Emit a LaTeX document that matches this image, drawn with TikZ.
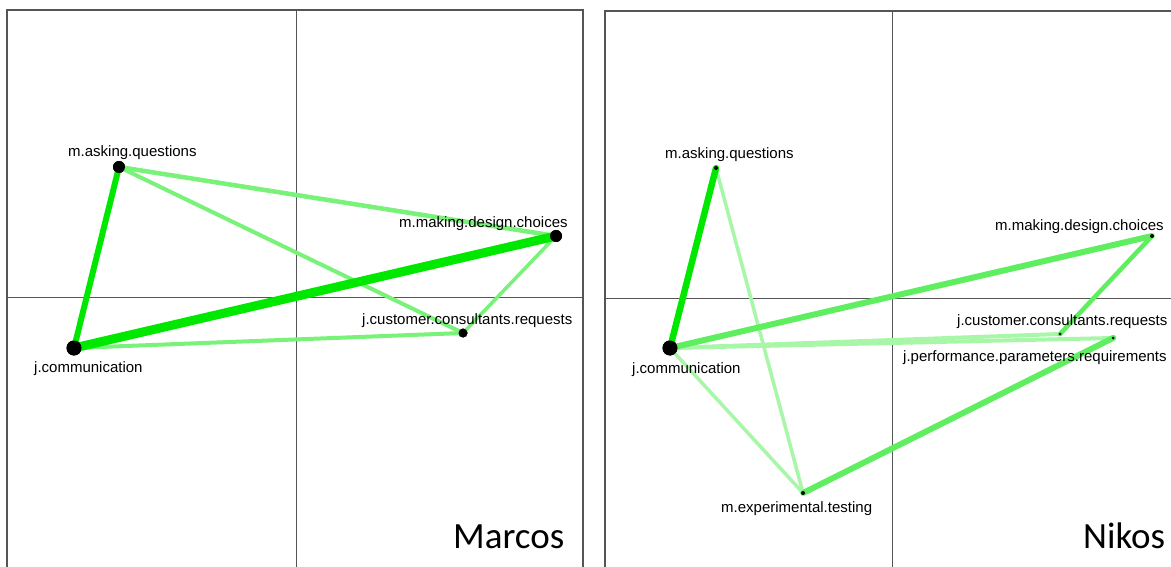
\documentclass[tikz,border=0pt]{standalone}
\usepackage{fontspec}
\setmainfont{Liberation Sans}
\newfontfamily\namefont{Carlito}
\definecolor{strongedge}{RGB}{0,232,0}
\definecolor{midedge}{RGB}{95,238,95}
\definecolor{lightedge}{RGB}{120,242,120}
\definecolor{paleedge}{RGB}{168,247,168}
\definecolor{framegray}{RGB}{85,85,85}
\begin{document}
\begin{tikzpicture}[x=1pt,y=-1pt,
  frame/.style={draw=framegray,line width=1.1pt},
  axis/.style={draw=framegray,line width=0.9pt},
  dot/.style={circle,fill=black,inner sep=0pt,minimum size=#1},
  lbl/.style={anchor=base west,inner sep=0pt,font=\fontsize{15}{18}\selectfont},
  who/.style={anchor=base west,inner sep=0pt,font=\namefont\fontsize{37}{44}\selectfont},
  edge/.style={line cap=round,shorten <=-2pt,shorten >=-2pt}]
\useasboundingbox (0,0) rectangle (1171,567);
\clip (0,0) rectangle (1171,567);
\fill[white] (0,0) rectangle (1171,567);

% ---------- left panel: Marcos ----------
\draw[frame] (7,567) -- (7,10) -- (583,10) -- (583,567);
\draw[axis] (296,10) -- (296,567);
\draw[axis] (7,297) -- (583,297);

\node[dot=12pt] (la) at (119,167) {};
\node[dot=15pt] (lc) at (74,348) {};
\node[dot=12pt] (lm) at (556,236) {};
\node[dot=9pt]  (lr) at (463,333) {};

\draw[edge,lightedge,line width=4pt] (lc) -- (lr);
\draw[edge,lightedge,line width=4.5pt] (la) -- (lm);
\draw[edge,lightedge,line width=4pt] (la) -- (lr);
\draw[edge,lightedge,line width=3.5pt] (lm) -- (lr);
\draw[edge,strongedge,line width=6pt] (lc) -- (la);
\draw[edge,strongedge,line width=9pt] (lc) -- (lm);

% dots again on top of the edges
\node[dot=12pt] at (la) {};
\node[dot=15pt] at (lc) {};
\node[dot=12pt] at (lm) {};
\node[dot=9pt]  at (lr) {};

\node[lbl] (laT) at (68,157) {m.asking.questions};
\node[lbl] (lcT) at (34,372) {j.communication};
\node[lbl] (lmT) at (399,228) {m.making.design.choices};
\node[lbl] (lrT) at (362,324) {j.customer.consultants.requests};
\node[who] (lname) at (453,548) {Marcos};

% ---------- right panel: Nikos ----------
\draw[frame] (605,567) -- (605,11) -- (1171,11);
\draw[axis] (892,11) -- (892,567);
\draw[axis] (605,298) -- (1171,298);

\node[dot=4pt]  (ra) at (716,168) {};
\node[dot=15pt] (rc) at (670,348) {};
\node[dot=4pt]  (rm) at (1152,236) {};
\node[dot=3pt]  (rr) at (1060,334) {};
\node[dot=3pt]  (rp) at (1113,338) {};
\node[dot=4pt]  (rx) at (803,493) {};

\draw[edge,paleedge,line width=3.5pt] (rc) -- (rx);
\draw[edge,paleedge,line width=3.5pt] (ra) -- (rx);
\draw[edge,paleedge,line width=4pt] (rc) -- (rr);
\draw[edge,paleedge,line width=4pt] (rc) -- (rp);
\draw[edge,midedge,line width=4.5pt] (rm) -- (rr);
\draw[edge,midedge,line width=6pt] (rx) -- (rp);
\draw[edge,midedge,line width=6pt] (rc) -- (rm);
\draw[edge,strongedge,line width=6.5pt] (rc) -- (ra);

\node[dot=4pt]  at (ra) {};
\node[dot=15pt] at (rc) {};
\node[dot=4pt]  at (rm) {};
\node[dot=3pt]  at (rr) {};
\node[dot=3pt]  at (rp) {};
\node[dot=4pt]  at (rx) {};

\node[lbl] (raT) at (665,159) {m.asking.questions};
\node[lbl] (rcT) at (632,373) {j.communication};
\node[lbl] (rmT) at (995,230) {m.making.design.choices};
\node[lbl] (rrT) at (957,325) {j.customer.consultants.requests};
\node[lbl] (rpT) at (903,361) {j.performance.parameters.requirements};
\node[lbl] (rxT) at (721,512) {m.experimental.testing};
\node[who] (rname) at (1083,548) {Nikos};
\end{tikzpicture}
\end{document}
